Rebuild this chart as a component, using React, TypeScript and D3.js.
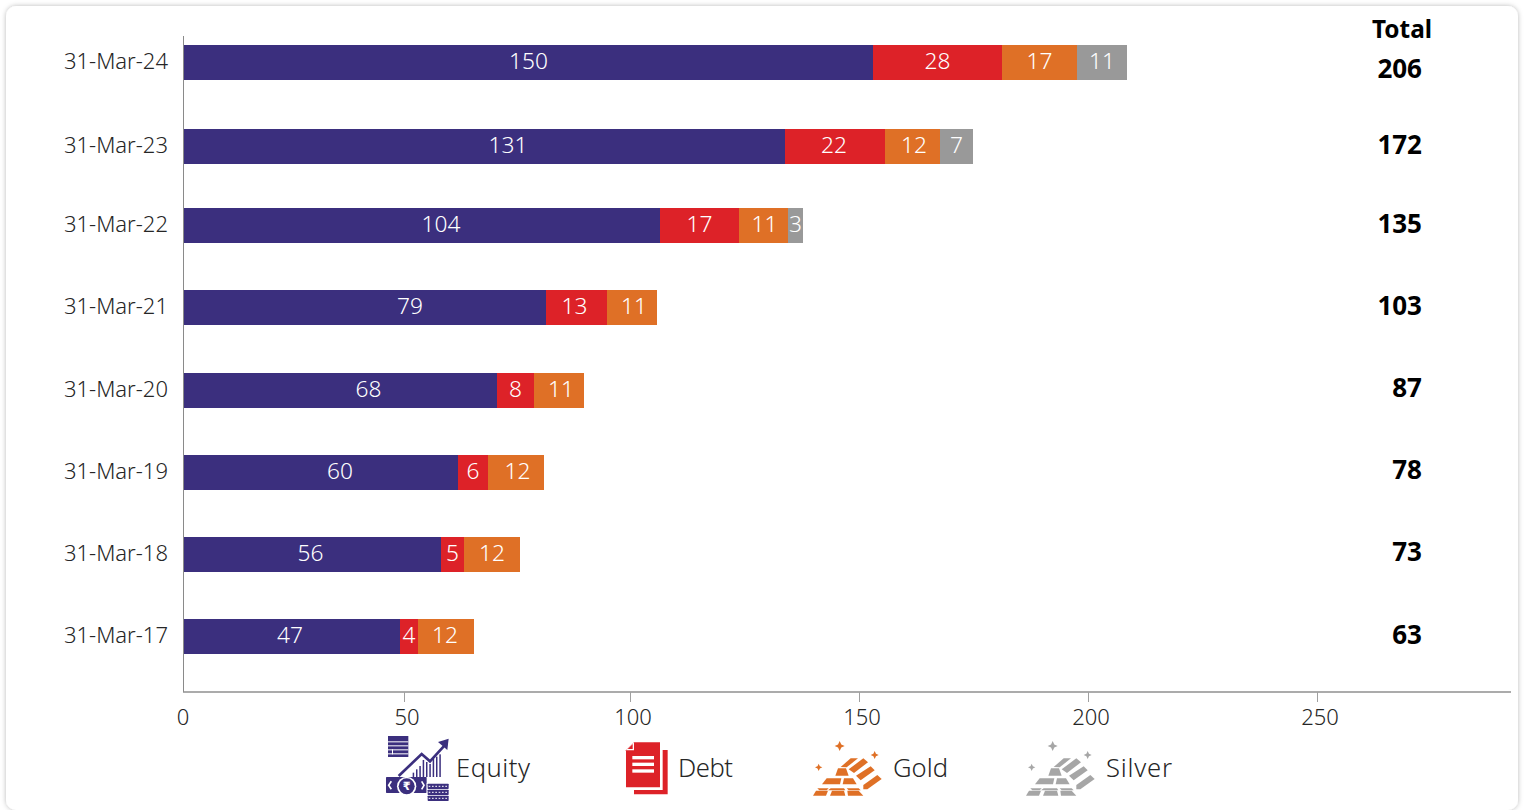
import React from "react";
import * as d3 from "d3";

const dates = ["31-Mar-24", "31-Mar-23", "31-Mar-22", "31-Mar-21", "31-Mar-20", "31-Mar-19", "31-Mar-18", "31-Mar-17"];
const equity = [150.3, 131.1, 103.8, 79, 68.3, 59.8, 56, 47.1];
const debt = [28.1, 21.8, 17.2, 13.3, 8.1, 6.5, 5.1, 3.9];
const gold = [16.4, 12, 10.7, 10.9, 10.9, 12.2, 12.2, 12.2];
const silver = [10.9, 7.2, 3.3, 0, 0, 0, 0, 0];
const equityLabels = [150, 131, 104, 79, 68, 60, 56, 47];
const debtLabels = [28, 22, 17, 13, 8, 6, 5, 4];
const goldLabels = [17, 12, 11, 11, 11, 12, 12, 12];
const silverLabels = [11, 7, 3, 0, 0, 0, 0, 0];
const totals = [206, 172, 135, 103, 87, 78, 73, 63];
const axisTicks = [0, 50, 100, 150, 200, 250];
const seriesKeys = ["Equity", "Debt", "Gold", "Silver"];
const seriesColors = ["#3b2f7e", "#dd2228", "#df7026", "#999999"];

const FONT = "'Noto Sans', sans-serif";
const TEXT = "#262626";
const W = 1525;
const H = 810;
const BAR_H = 35;

const table = dates.map((d, i) => ({ date: d, Equity: equity[i], Debt: debt[i], Gold: gold[i], Silver: silver[i] }));
const labelTable: Record<string, number[]> = { Equity: equityLabels, Debt: debtLabels, Gold: goldLabels, Silver: silverLabels };
// Labels in the reference sit off their segment centres by these amounts.
const labelNudge: Record<string, number[]> = {
  Equity: [0, 23.5, 19, 45, 28, 19, -2, -2],
  Debt: [0, -1, 0, -2, 0, 0, 0, 0],
  Gold: [0, 1.5, 1, 2, 2, 1.5, 0, -1],
  Silver: [0, 0, 0, 0, 0, 0, 0, 0],
};
const stacked = d3.stack<any>().keys(seriesKeys)(table);

// Bars and the printed axis use different spacing in the reference.
const x = d3.scaleLinear().domain([0, 250]).rangeRound([184, 1330.25]);
const axisX = d3.scaleLinear().domain(axisTicks).range([184, 404, 630, 859, 1088, 1317]);
const rowTop = d3.scaleOrdinal<string, number>().domain(dates).range([45, 129, 208, 290, 373, 455, 537, 619]);
const totalBase = d3.scaleOrdinal<string, number>().domain(dates).range([78, 154, 233, 315, 397, 479, 561, 644]);

const sparkle = (cx: number, cy: number, r: number) => {
  const q = r * 0.32;
  return `M${cx},${cy - r}L${cx + q},${cy - q}L${cx + r},${cy}L${cx + q},${cy + q}L${cx},${cy + r}L${cx - q},${cy + q}L${cx - r},${cy}L${cx - q},${cy - q}Z`;
};

// Ingot pile, in 3x crop coordinates.
const ingots = [
  "M98,96L128,70L150,70L116,97Z",
  "M122,103L166,70L180,82L138,114Z",
  "M82,122L90,100L114,100L122,122Z",
  "M144,122L188,94L200,106L158,136Z",
  "M42,148L56,130L100,130L96,148Z",
  "M104,148L108,130L135,130L146,148Z",
  "M166,150L208,120L221,132L178,163L166,163Z",
  "M28,160L62,160L56,166L34,166Z",
  "M68,160L108,160L112,166L60,166Z",
  "M116,160L152,160L158,166L122,166Z",
  "M15,182L24,167L60,167L54,182Z",
  "M66,182L72,167L108,167L112,182Z",
  "M120,182L118,167L152,167L166,182Z",
];

function Ingots({ color, dx }: { color: string; dx: number }) {
  return (
    <g transform={`translate(${808 + dx},735) scale(${1 / 3})`} fill={color}>
      <path d={sparkle(95, 33, 15)} />
      <path d={sparkle(200, 60, 12)} />
      <path d={sparkle(32, 97, 11)} />
      {ingots.map((d, i) => <path key={i} d={d} />)}
    </g>
  );
}

function EquityIcon({ color }: { color: string }) {
  const uprights = [98, 108, 118, 128, 138, 148, 158, 168, 178];
  return (
    <g transform="translate(380,732) scale(0.3333)">
      <rect x={24} y={12} width={61} height={63} fill={color} />
      {[28, 40, 52].map((y) => <rect key={y} x={24} y={y} width={61} height={3} fill="#fff" />)}
      <rect x={24} y={64} width={61} height={3} fill="#fff" />
      <rect x={36} y={52} width={3} height={15} fill="#fff" />
      <path d="M56,132L125,66L150,88L196,38" fill="none" stroke={color} strokeWidth={8} />
      <path d="M174,30L206,20L202,54Z" fill={color} />
      <clipPath id="eq-clip"><rect x={90} y={40} width={100} height={95} /></clipPath>
      {uprights.map((u) => (
        <rect key={u} x={u} y={u < 128 ? 122 - (u - 98) : u < 150 ? 84 + (u - 128) * 0.6 : 88 - (u - 148) * 0.7} width={4.5} height={135} fill={color} clipPath="url(#eq-clip)" />
      ))}
      <rect x={18} y={135} width={122} height={48} rx={2} fill={color} />
      <circle cx={80} cy={163} r={29} fill="#fff" />
      <circle cx={80} cy={163} r={24} fill={color} />
      <text x={80} y={175} fontFamily="'DejaVu Sans', sans-serif" fontSize={34} fontWeight={700} fill="#fff" textAnchor="middle">₹</text>
      <path d="M34,148L26,160L34,172" fill="none" stroke="#fff" strokeWidth={5} />
      <path d="M125,148L132,160L125,172" fill="none" stroke="#fff" strokeWidth={5} />
      {[155, 173, 191].map((y) => (
        <g key={y}>
          <rect x={140} y={y - 2} width={68} height={18} fill="#fff" />
          <rect x={143} y={y} width={63} height={16} rx={2} fill={color} />
          <path d={`M146,${y + 8}H204`} stroke="#fff" strokeWidth={3} strokeDasharray="5 5" />
        </g>
      ))}
    </g>
  );
}

function DebtIcon({ color }: { color: string }) {
  return (
    <g transform="translate(620,735) scale(0.3333)">
      <path d="M128,45H143V178H42V165H128Z" fill={color} />
      <path d="M42,22H120V157H18V46Z" fill={color} />
      <path d="M18,46L42,22V46Z" fill="#fff" />
      <path d="M23,42L38,27V42Z" fill={color} />
      {[63, 83, 103].map((y) => <rect key={y} x={37} y={y} width={65} height={10} fill="#fff" />)}
    </g>
  );
}

const legendNames = seriesKeys;
const legendX = d3.scaleOrdinal<string, number>().domain(legendNames).range([456, 678, 893, 1106]);
const legendWidth = d3.scaleOrdinal<string, number>().domain(legendNames).range([74, 55, 55, 66]);

export default function App() {
  return (
    <svg width={W} height={H} viewBox={`0 0 ${W} ${H}`} style={{ position: "absolute", left: 0, top: 0, display: "block" }} fontFamily={FONT}>
      <defs>
        <filter id="card-shadow" x="-2%" y="-2%" width="104%" height="104%">
          <feDropShadow dx={0} dy={0} stdDeviation={2.6} floodColor="#000" floodOpacity={0.28} />
        </filter>
      </defs>
      <rect width={W} height={H} fill="#fff" />
      <rect x={6} y={6} width={1512} height={804} rx={10} fill="#fff" filter="url(#card-shadow)" />

      {/* axes */}
      <line x1={183.5} x2={183.5} y1={36} y2={692} stroke="#8a8a8a" strokeWidth={1} />
      <line x1={183} x2={1511} y1={692} y2={692} stroke="#8f8f8f" strokeWidth={1.5} />
      {axisTicks.map((t) => (
        <g key={t}>
          {t > 0 && <line x1={Math.round(axisX(t)) + 0.5} x2={Math.round(axisX(t)) + 0.5} y1={692} y2={702} stroke="#a0a0a0" strokeWidth={1} />}
          <text x={axisX(t) + (t > 0 ? 3 : -1)} y={725} textAnchor="middle" fontSize={22} fill={TEXT} fontWeight={300}>{t}</text>
        </g>
      ))}

      {/* category labels */}
      {dates.map((d) => (
        <text key={d} x={168} y={rowTop(d) + BAR_H / 2 + 6.3} textAnchor="end" fontSize={22} fill={TEXT} fontWeight={300}>{d}</text>
      ))}

      {/* bars */}
      {stacked.map((layer, s) => (
        <g key={layer.key} fill={seriesColors[s]}>
          {layer.map((seg, i) => {
            const w = x(seg[1]) - x(seg[0]);
            if (w <= 0) return null;
            return <rect key={i} x={x(seg[0])} y={rowTop(dates[i])} width={w} height={BAR_H} shapeRendering="crispEdges" />;
          })}
        </g>
      ))}
      {stacked.map((layer) => (
        <g key={layer.key} fill="#fff" fontSize={22.7} fontWeight={300} textAnchor="middle">
          {layer.map((seg, i) => {
            const v = labelTable[layer.key][i];
            if (!v) return null;
            return <text key={i} x={(x(seg[0]) + x(seg[1])) / 2 + labelNudge[layer.key][i]} y={rowTop(dates[i]) + BAR_H / 2 + 6.3}>{v}</text>;
          })}
        </g>
      ))}

      {/* totals */}
      <text x={1402} y={38} textAnchor="middle" fontSize={24.4} fontWeight={700} fill="#000">Total</text>
      {dates.map((d, i) => (
        <text key={d} x={1422} y={totalBase(d)} textAnchor="end" fontSize={26} fontWeight={700} fill="#000">{totals[i]}</text>
      ))}

      {/* legend */}
      <EquityIcon color={seriesColors[0]} />
      <DebtIcon color={seriesColors[1]} />
      <Ingots color={seriesColors[2]} dx={0} />
      <Ingots color="#a6a6a6" dx={213} />
      {legendNames.map((n) => (
        <text key={n} x={legendX(n)} y={777} fontSize={25.6} fontWeight={300} fill={TEXT} textLength={legendWidth(n)} lengthAdjust="spacing">{n}</text>
      ))}
    </svg>
  );
}
